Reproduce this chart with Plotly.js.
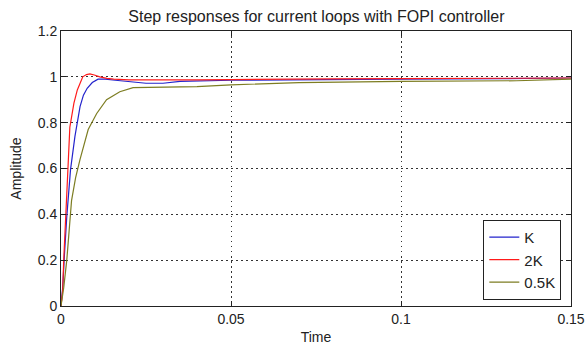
<!DOCTYPE html>
<html>
<head>
<meta charset="utf-8">
<script src="https://cdn.plot.ly/plotly-3.0.1.min.js"></script>
<style>html,body{margin:0;padding:0;background:#fff;}#chart{width:586px;height:345px;}</style>
</head>
<body>
<div id="chart"></div>
<script>
// Series names
const seriesNames = ["K", "2K", "0.5K"];

// K (blue)
const tK = [0, 0.0005, 0.001, 0.0017, 0.0028, 0.0041, 0.0056, 0.0066, 0.0077, 0.0092, 0.0109, 0.013, 0.016, 0.02, 0.025, 0.03, 0.035, 0.05, 0.07, 0.1, 0.13, 0.15];
const yK = [0, 0.08, 0.22, 0.39, 0.595, 0.74, 0.87, 0.92, 0.95, 0.975, 0.99, 0.99, 0.985, 0.978, 0.972, 0.972, 0.98, 0.985, 0.988, 0.99, 0.992, 0.995];

// 2K (red)
const t2K = [0, 0.0005, 0.0008, 0.0012, 0.0017, 0.0022, 0.0026, 0.0032, 0.0038, 0.0048, 0.0056, 0.0064, 0.0075, 0.0085, 0.0098, 0.0114, 0.0135, 0.0155, 0.02, 0.03, 0.04, 0.05, 0.06, 0.08, 0.1, 0.12, 0.15];
const y2K = [0, 0.07, 0.2, 0.35, 0.51, 0.65, 0.78, 0.84, 0.885, 0.943, 0.975, 1.0, 1.01, 1.013, 1.008, 1.0, 0.993, 0.99, 0.987, 0.986, 0.987, 0.988, 0.99, 0.991, 0.992, 0.993, 0.995];

// 0.5K (olive)
const tHalfK = [0, 0.0008, 0.0017, 0.0031, 0.0043, 0.0056, 0.008, 0.0105, 0.0134, 0.0173, 0.0212, 0.03, 0.04, 0.05, 0.07, 0.1, 0.134, 0.15];
const yHalfK = [0, 0.08, 0.2, 0.46, 0.56, 0.64, 0.77, 0.84, 0.9, 0.935, 0.953, 0.955, 0.957, 0.965, 0.975, 0.98, 0.983, 0.99];

// Tick labels
const xTickVals = [0, 0.05, 0.1, 0.15];
const xTickText = ["0", "0.05", "0.1", "0.15"];
const yTickVals = [0, 0.2, 0.4, 0.6, 0.8, 1, 1.2];
const yTickText = ["0", "0.2", "0.4", "0.6", "0.8", "1", "1.2"];

const colors = ["#2323cc", "#ff1a1a", "#7d7d22"];
const FONT = "Liberation Sans, Arial, sans-serif";

const traces = [
  {x: tK, y: yK, name: seriesNames[0]},
  {x: t2K, y: y2K, name: seriesNames[1]},
  {x: tHalfK, y: yHalfK, name: seriesNames[2]}
].map((tr, i) => Object.assign(tr, {type: "scatter", mode: "lines", line: {color: colors[i], width: 1.2}}));

const axisCommon = {
  showline: true, linecolor: "#222", linewidth: 1, mirror: "ticks",
  ticks: "inside", ticklen: 5, tickcolor: "#222",
  showgrid: true, gridcolor: "#333", griddash: "1.5px,3.5px", gridwidth: 1,
  zeroline: false, ticklabeloverflow: "allow",
  tickfont: {family: FONT, size: 14, color: "#222"}
};

const layout = {
  width: 586, height: 345,
  margin: {l: 61, r: 15, t: 31, b: 39},
  paper_bgcolor: "#fff", plot_bgcolor: "#fff",
  title: {text: "Step responses for current loops with FOPI controller", x: 0.54, xanchor: "center", y: 0.953, yanchor: "middle",
          font: {family: FONT, size: 16, color: "#222"}},
  xaxis: Object.assign({}, axisCommon, {range: [0, 0.150001], tickvals: xTickVals, ticktext: xTickText,
          title: {text: "Time", font: {family: FONT, size: 14, color: "#222"}, standoff: 6}}),
  yaxis: Object.assign({}, axisCommon, {range: [0, 1.2], tickvals: yTickVals, ticktext: yTickText,
          title: {text: "Amplitude", font: {family: FONT, size: 14, color: "#222"}, standoff: 12}}),
  legend: {x: 0.981, y: 0.022, xanchor: "right", yanchor: "bottom", bgcolor: "#fff", bordercolor: "#222", borderwidth: 1,
           font: {family: FONT, size: 15, color: "#222"}, tracegroupgap: 0, itemwidth: 30},
  showlegend: true
};

Plotly.newPlot("chart", traces, layout, {staticPlot: true, displayModeBar: false});
</script>
</body>
</html>
